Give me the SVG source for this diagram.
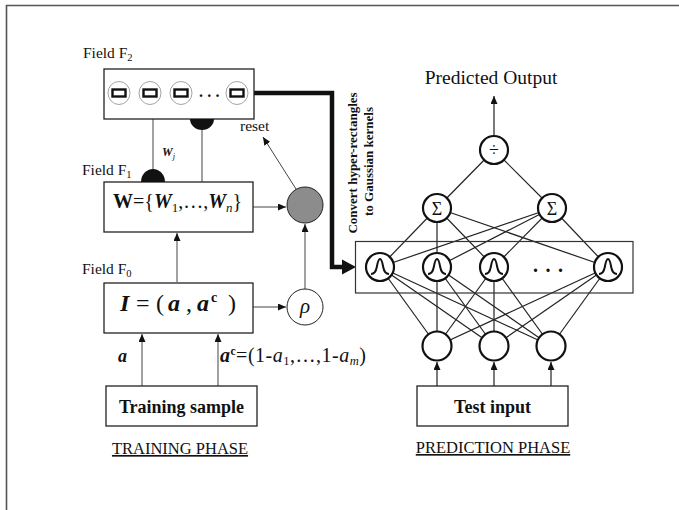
<svg xmlns="http://www.w3.org/2000/svg" width="679" height="510" viewBox="0 0 679 510">
<style>
text{font-family:"Liberation Serif","Times New Roman",serif;fill:#111}
.box{fill:#fff;stroke:#222;stroke-width:1.3}
.thin{fill:none;stroke:#444;stroke-width:1}
.net{fill:none;stroke:#222;stroke-width:1.2}
.neuron{fill:#fff;stroke:#111;stroke-width:2.2}
.bi{font-weight:bold;font-style:italic}
.b{font-weight:bold}
.i{font-style:italic}
.lbl{font-size:15.5px}
.phase{font-size:16.5px;text-decoration:underline}
.gauss{fill:none;stroke:#111;stroke-width:2}
</style>
<defs>
<marker id="ah" markerUnits="userSpaceOnUse" markerWidth="8" markerHeight="7" refX="8" refY="3.5" orient="auto">
<path d="M0,0 L8,3.5 L0,7 z" fill="#111"/>
</marker>
<path id="bell" d="M-9,7 Q-4.5,7 -3.2,0 Q-1.8,-8 0,-8 Q1.8,-8 3.2,0 Q4.5,7 9,7"/>
</defs>

<path d="M6.5,510 V5.5 H679" fill="none" stroke="#555" stroke-width="1.6"/>

<g id="connectors">
<!-- training side -->
<line class="thin" x1="153" y1="119" x2="153" y2="170"/>
<line class="thin" x1="202" y1="128" x2="202" y2="182"/>
<line class="thin" x1="177" y1="282" x2="177" y2="233" marker-end="url(#ah)"/>
<line class="thin" x1="253" y1="207" x2="286" y2="207" stroke="#777" marker-end="url(#ah)"/>
<line class="thin" x1="253" y1="307" x2="286" y2="307" stroke="#777" marker-end="url(#ah)"/>
<line class="thin" x1="305" y1="289" x2="305" y2="224" stroke="#777" marker-end="url(#ah)"/>
<line class="thin" x1="296" y1="189" x2="263" y2="137" marker-end="url(#ah)"/>
<line class="thin" x1="142" y1="386" x2="142" y2="334" marker-end="url(#ah)"/>
<line class="thin" x1="218" y1="386" x2="218" y2="334" marker-end="url(#ah)"/>
<!-- thick conversion connector -->
<path d="M253,93 H332 V267 H344" fill="none" stroke="#111" stroke-width="4.5"/>
<path d="M342,259.5 L356,267 L342,274.5 z" fill="#111"/>
<!-- prediction network -->
<line class="net" x1="494" y1="135" x2="494" y2="96" marker-end="url(#ah)"/>
<line class="net" x1="437" y1="208" x2="494" y2="150"/>
<line class="net" x1="552" y1="208" x2="494" y2="150"/>
<line class="net" x1="437" y1="208" x2="380" y2="267"/>
<line class="net" x1="437" y1="208" x2="437" y2="267"/>
<line class="net" x1="437" y1="208" x2="494" y2="267"/>
<line class="net" x1="437" y1="208" x2="608" y2="267"/>
<line class="net" x1="552" y1="208" x2="380" y2="267"/>
<line class="net" x1="552" y1="208" x2="437" y2="267"/>
<line class="net" x1="552" y1="208" x2="494" y2="267"/>
<line class="net" x1="552" y1="208" x2="608" y2="267"/>
<line class="net" x1="380" y1="267" x2="437" y2="346"/>
<line class="net" x1="380" y1="267" x2="494" y2="346"/>
<line class="net" x1="380" y1="267" x2="551" y2="346"/>
<line class="net" x1="437" y1="267" x2="437" y2="346"/>
<line class="net" x1="437" y1="267" x2="494" y2="346"/>
<line class="net" x1="437" y1="267" x2="551" y2="346"/>
<line class="net" x1="494" y1="267" x2="437" y2="346"/>
<line class="net" x1="494" y1="267" x2="494" y2="346"/>
<line class="net" x1="494" y1="267" x2="551" y2="346"/>
<line class="net" x1="608" y1="267" x2="437" y2="346"/>
<line class="net" x1="608" y1="267" x2="494" y2="346"/>
<line class="net" x1="608" y1="267" x2="551" y2="346"/>
<line class="net" x1="437" y1="386" x2="437" y2="362" marker-end="url(#ah)"/>
<line class="net" x1="494" y1="386" x2="494" y2="362" marker-end="url(#ah)"/>
<line class="net" x1="551" y1="386" x2="551" y2="362" marker-end="url(#ah)"/>
</g>

<g id="labels">
<text x="240" y="131" class="lbl">reset</text>
<text x="162" y="156" font-size="12"><tspan class="bi">W</tspan><tspan class="i" font-size="8.5" dy="3">j</tspan></text>
<text x="118" y="362" font-size="18" class="bi">a</text>
<text x="220" y="362" font-size="20" letter-spacing="0.5"><tspan class="bi">a</tspan><tspan class="b" font-size="11.5" dy="-7">c</tspan><tspan dy="7">=(1-</tspan><tspan class="i">a</tspan><tspan font-size="12.5" dy="3">1</tspan><tspan dy="-3">,…,1-</tspan><tspan class="i">a</tspan><tspan class="i" font-size="12.5" dy="3">m</tspan><tspan dy="-3">)</tspan></text>
<g font-weight="bold" font-size="13" text-anchor="middle">
<text transform="translate(357,163) rotate(-90)">Convert hyper-rectangles</text>
<text transform="translate(373,161.5) rotate(-90)">to Gaussian kernels</text>
</g>
<text x="491" y="84" font-size="19.5" text-anchor="middle">Predicted Output</text>
<text x="180" y="454" class="phase" text-anchor="middle">TRAINING PHASE</text>
<text x="493" y="453" class="phase" text-anchor="middle">PREDICTION PHASE</text>
</g>

<g id="field-f2">
<text x="83" y="58" class="lbl">Field F<tspan font-size="10.5" dy="3">2</tspan></text>
<rect class="box" x="104" y="69" width="150" height="50"/>
<g fill="#fff" stroke="#999" stroke-width="0.9">
<ellipse cx="119" cy="93" rx="11" ry="11.5"/>
<ellipse cx="150" cy="93" rx="11" ry="11.5"/>
<ellipse cx="181" cy="93" rx="11" ry="11.5"/>
<ellipse cx="237" cy="93" rx="11" ry="11.5"/>
</g>
<g fill="#fff" stroke="#111" stroke-width="2.4">
<rect x="112.5" y="89.5" width="13" height="7"/>
<rect x="143.5" y="89.5" width="13" height="7"/>
<rect x="174.5" y="89.5" width="13" height="7"/>
<rect x="230.5" y="89.5" width="13" height="7"/>
</g>
<text x="199" y="97" font-size="16" font-weight="bold" letter-spacing="4.3">...</text>
<path d="M190,119 A12,11 0 0 0 214,119 Z" fill="#111"/>
</g>

<g id="field-f1">
<text x="82" y="175" class="lbl">Field F<tspan font-size="10.5" dy="3">1</tspan></text>
<rect class="box" x="104" y="182" width="149" height="50"/>
<path d="M141,182 A12,13 0 0 1 165,182 Z" fill="#111"/>
<text x="113" y="208" font-size="20"><tspan class="b">W</tspan><tspan>={</tspan><tspan class="bi">W</tspan><tspan font-size="13" dy="4">1</tspan><tspan dy="-4">,…,</tspan><tspan class="bi">W</tspan><tspan class="i" font-size="13" dy="4">n</tspan><tspan dy="-4">}</tspan></text>
</g>

<g id="field-f0">
<text x="82" y="274" class="lbl">Field F<tspan font-size="10.5" dy="3">0</tspan></text>
<rect class="box" x="104" y="283" width="149" height="50"/>
<text y="311" font-size="24"><tspan x="120" class="bi">I</tspan><tspan x="136">=</tspan><tspan x="156">(</tspan><tspan x="168" class="bi">a</tspan><tspan x="186">,</tspan><tspan x="197" class="bi">a</tspan><tspan x="211" y="302" class="b" font-size="14">c</tspan><tspan x="228" y="311">)</tspan></text>
</g>

<g id="reset-node">
<circle cx="305" cy="205" r="18" fill="#8c8c8c" stroke="#222" stroke-width="1"/>
</g>

<g id="rho-node">
<circle cx="305" cy="307" r="18" fill="#fff" stroke="#222" stroke-width="1"/>
<text x="305" y="313" font-size="21" class="i" text-anchor="middle">ρ</text>
</g>

<g id="training-sample">
<rect class="box" x="106" y="386" width="151" height="40"/>
<text x="181.5" y="413" font-size="18" class="b" text-anchor="middle">Training sample</text>
</g>

<g id="kernel-layer">
<rect x="355.5" y="241.5" width="277.5" height="51.5" fill="none" stroke="#333" stroke-width="1.2"/>
<circle class="neuron" cx="380" cy="267" r="14"/>
<circle class="neuron" cx="437" cy="267" r="14"/>
<circle class="neuron" cx="494" cy="267" r="14"/>
<circle class="neuron" cx="608" cy="267" r="14"/>
<use href="#bell" class="gauss" x="380" y="267"/>
<use href="#bell" class="gauss" x="437" y="267"/>
<use href="#bell" class="gauss" x="494" y="267"/>
<use href="#bell" class="gauss" x="608" y="267"/>
<text x="533" y="272" font-size="20" font-weight="bold" letter-spacing="7.5">...</text>
</g>

<g id="sum-left">
<circle class="neuron" cx="437" cy="208" r="14"/>
<text x="437" y="214.5" font-size="18" text-anchor="middle">Σ</text>
</g>
<g id="sum-right">
<circle class="neuron" cx="552" cy="208" r="14"/>
<text x="552" y="214.5" font-size="18" text-anchor="middle">Σ</text>
</g>
<g id="divide">
<circle class="neuron" cx="494" cy="150" r="14"/>
<text x="494" y="156" font-size="18" text-anchor="middle">÷</text>
</g>

<g id="input-layer">
<circle class="neuron" cx="437" cy="346" r="14.5"/>
<circle class="neuron" cx="494" cy="346" r="14.5"/>
<circle class="neuron" cx="551" cy="346" r="14.5"/>
</g>

<g id="test-input">
<rect class="box" x="417" y="386" width="151" height="40"/>
<text x="492.5" y="413" font-size="18" class="b" text-anchor="middle">Test input</text>
</g>
</svg>
